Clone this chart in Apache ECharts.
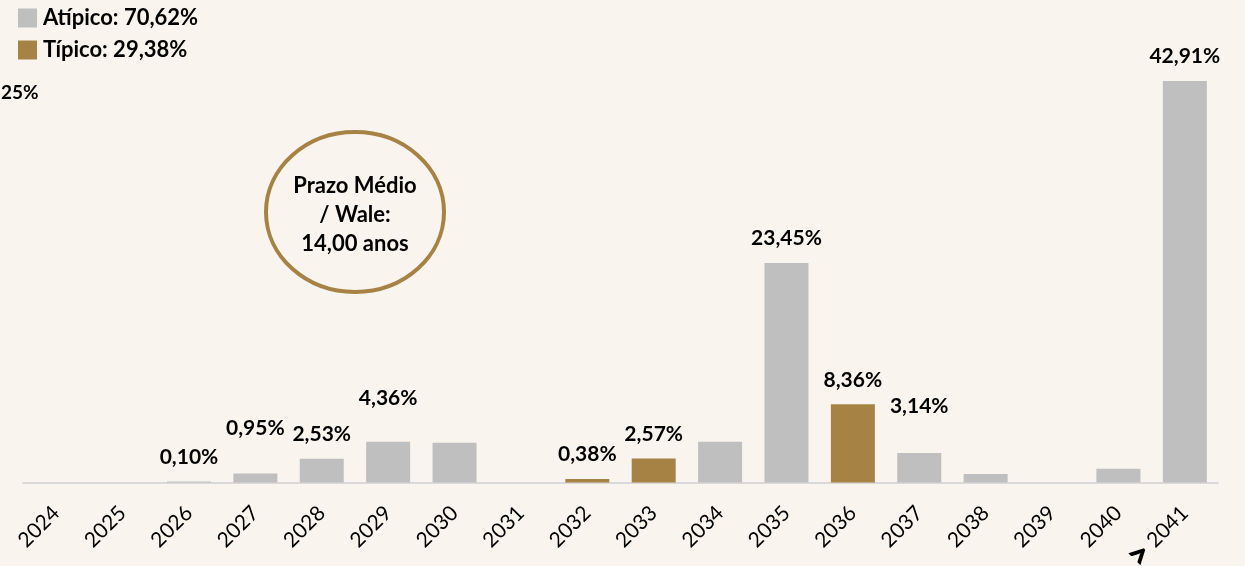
<!DOCTYPE html>
<html>
<head>
<meta charset="utf-8">
<style>
  html, body { margin: 0; padding: 0; background: #f9f5ee; }
  #chart { width: 1245px; height: 566px; }
</style>
<script src="https://cdn.jsdelivr.net/npm/echarts@6/dist/echarts.min.js"></script>
</head>
<body>
<div id="chart"></div>
<script>
const categories = ['2024','2025','2026','2027','2028','2029','2030','2031','2032','2033','2034','2035','2036','2037','2038','2039','2040','2041'];
const atipico = [0, 0, 0.10, 0.95, 2.53, 4.36, 4.25, 0, null, null, 4.36, 23.45, null, 3.14, 0.91, 0, 1.47, 42.91];
const tipico  = [null, null, null, null, null, null, null, null, 0.38, 2.57, null, null, 8.36, null, null, null, null, null];
const valueLabels = ['', '', '0,10%', '0,95%', '2,53%', '4,36%', '', '', '0,38%', '2,57%', '', '23,45%', '8,36%', '3,14%', '', '', '', '42,91%'];
const legendNames = ['Atípico: 70,62%', 'Típico: 29,38%'];
const wale = ['Prazo Médio', '/ Wale:', '14,00 anos'];

// extra vertical lift for a few labels (styling only)
const extraLift = { '2027': 21, '2029': 19, '2037': 22 };

const FONT = 'Lato, "Open Sans", sans-serif';
const GRAY = '#bfbfbf';
const GOLD = '#a68245';

function buildData(values) {
  return values.map((v, i) => {
    const lift = extraLift[categories[i]] || 0;
    return { value: v, label: { offset: [0, -lift] } };
  });
}

const labelCfg = {
  show: true,
  position: 'top',
  distance: 14,
  fontFamily: FONT,
  fontWeight: 'bold',
  fontSize: 21,
  color: '#000',
  formatter: p => valueLabels[p.dataIndex] || ''
};

const chart = echarts.init(document.getElementById('chart'), null, { renderer: 'canvas' });
chart.setOption({
  backgroundColor: '#f9f5ee',
  animation: false,
  legend: {
    orient: 'vertical',
    left: 18,
    top: 7,
    itemWidth: 19,
    itemHeight: 19,
    itemGap: 10,
    icon: 'rect',
    padding: 0,
    textStyle: { fontFamily: FONT, fontWeight: 'bold', fontSize: 22, color: '#000', padding: [0, 0, 0, 1] },
    data: legendNames
  },
  grid: { left: 23, right: 27, top: 61.4, bottom: 83.5, outerBoundsMode: 'none', containLabel: false },
  xAxis: {
    type: 'category',
    data: categories,
    axisTick: { show: false },
    axisLine: { lineStyle: { color: '#d9d9d9', width: 2 } },
    axisLabel: {
      interval: 0,
      rotate: 45,
      margin: 27,
      fontFamily: FONT,
      fontSize: 21,
      color: '#000',
      formatter: (v, i) => i === categories.length - 1 ? '{g|>}' + v : v,
      rich: {
        g: { fontFamily: FONT, fontWeight: 900, fontSize: 36, color: '#000', padding: [0, 5, 0, 0] }
      }
    }
  },
  yAxis: { type: 'value', min: 0, max: 45, show: false, splitLine: { show: false } },
  series: [
    {
      name: legendNames[0],
      type: 'bar',
      data: buildData(atipico),
      barWidth: 44,
      barGap: '-100%',
      itemStyle: { color: GRAY },
      label: labelCfg
    },
    {
      name: legendNames[1],
      type: 'bar',
      data: buildData(tipico),
      barWidth: 44,
      barGap: '-100%',
      itemStyle: { color: GOLD },
      label: labelCfg
    }
  ],
  graphic: [
    {
      type: 'text', left: 1, top: 83,
      style: { text: '25%', fontFamily: FONT, fontWeight: 'bold', fontSize: 19, fill: '#000' }
    },
    {
      type: 'ellipse',
      shape: { cx: 355, cy: 212, rx: 89, ry: 80 },
      style: { fill: 'none', stroke: GOLD, lineWidth: 4 }
    },
    {
      type: 'text', x: 355, y: 215,
      style: {
        text: wale.join('\n'), fontFamily: FONT, fontWeight: 'bold', fontSize: 22, lineHeight: 29,
        fill: '#000', align: 'center', verticalAlign: 'middle'
      }
    }
  ]
});
</script>
</body>
</html>
